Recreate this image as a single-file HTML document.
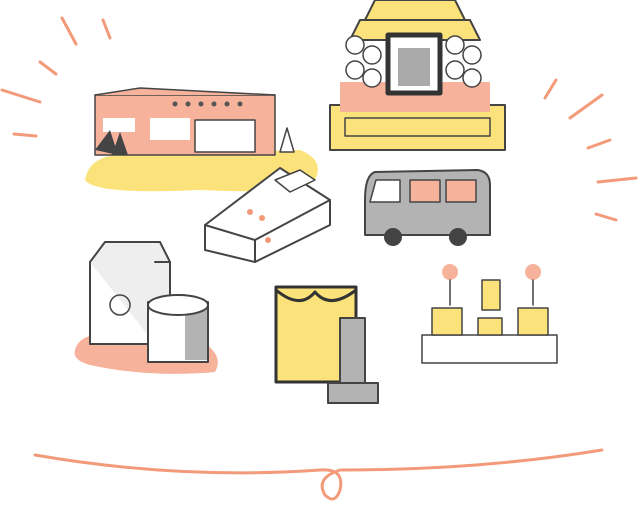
<!DOCTYPE html>
<html><head><meta charset="utf-8"><style>html,body{margin:0;padding:0;background:#fff}svg{display:block}</style></head>
<body>
<svg width="640" height="515" viewBox="0 0 640 515" xmlns="http://www.w3.org/2000/svg" stroke-linecap="round" stroke-linejoin="round">
<rect width="640" height="515" fill="#fff"/>
<!-- rays -->
<g stroke="#f29a7a" stroke-width="3" fill="none">
<line x1="62" y1="18" x2="76" y2="44"/><line x1="103" y1="20" x2="110" y2="38"/>
<line x1="40" y1="62" x2="56" y2="74"/><line x1="2" y1="90" x2="40" y2="102"/>
<line x1="14" y1="134" x2="36" y2="136"/>
<line x1="545" y1="98" x2="556" y2="80"/><line x1="570" y1="118" x2="602" y2="95"/>
<line x1="588" y1="148" x2="610" y2="140"/><line x1="598" y1="182" x2="636" y2="178"/>
<line x1="596" y1="214" x2="616" y2="220"/>
</g>
<!-- building -->
<path d="M85 180 Q90 150 140 155 L300 150 Q325 160 315 180 Q300 195 200 190 Q95 195 85 180Z" fill="#fbe27a"/>
<rect x="95" y="95" width="180" height="60" fill="#f6b29a" stroke="#444" stroke-width="1.5"/>
<path d="M95 95 L140 88 L275 95" fill="#f6b29a" stroke="#444" stroke-width="1.5"/>
<g fill="#fff"><rect x="103" y="118" width="32" height="14"/><rect x="150" y="118" width="40" height="22"/></g>
<g fill="#555"><circle cx="175" cy="104" r="2.5"/><circle cx="188" cy="104" r="2.5"/><circle cx="201" cy="104" r="2.5"/><circle cx="214" cy="104" r="2.5"/><circle cx="227" cy="104" r="2.5"/><circle cx="240" cy="104" r="2.5"/></g>
<rect x="195" y="120" width="60" height="32" fill="#fff" stroke="#444" stroke-width="1.5"/>
<path d="M95 150 L110 130 L118 155Z M112 155 L120 132 L128 155Z" fill="#444"/>
<path d="M280 152 L287 128 L294 152Z" fill="#fff" stroke="#444" stroke-width="1.5"/>
<!-- altar -->
<rect x="330" y="105" width="175" height="45" fill="#fbe27a" stroke="#444" stroke-width="2"/>
<rect x="340" y="82" width="150" height="30" fill="#f6b29a"/>
<path d="M360 20 L470 20 L480 40 L350 40Z" fill="#fbe27a" stroke="#444" stroke-width="2"/>
<path d="M375 0 L455 0 L465 20 L365 20Z" fill="#fbe27a" stroke="#444" stroke-width="2"/>
<rect x="388" y="35" width="52" height="58" fill="#fff" stroke="#333" stroke-width="5"/>
<rect x="398" y="48" width="32" height="38" fill="#aaa"/>
<g fill="#fff" stroke="#444" stroke-width="1.5">
<circle cx="355" cy="45" r="9"/><circle cx="372" cy="55" r="9"/><circle cx="355" cy="70" r="9"/><circle cx="372" cy="78" r="9"/>
<circle cx="455" cy="45" r="9"/><circle cx="472" cy="55" r="9"/><circle cx="455" cy="70" r="9"/><circle cx="472" cy="78" r="9"/>
</g>
<rect x="345" y="118" width="145" height="18" fill="none" stroke="#444" stroke-width="1.5"/>
<!-- coffin -->
<path d="M205 225 L280 168 L330 200 L330 225 L255 262 L205 250Z" fill="#fff" stroke="#444" stroke-width="2"/>
<path d="M205 225 L255 240 L330 200 M255 240 L255 262" fill="none" stroke="#444" stroke-width="2"/>
<path d="M275 180 L300 170 L315 180 L290 192Z" fill="#fff" stroke="#444" stroke-width="1.5"/>
<g fill="#f29a7a"><circle cx="250" cy="212" r="3"/><circle cx="262" cy="218" r="3"/><circle cx="268" cy="240" r="3"/></g>
<!-- bus -->
<path d="M375 172 L478 170 Q490 172 490 185 L490 235 L365 235 L365 200 Q365 175 375 172Z" fill="#b3b3b3" stroke="#444" stroke-width="2"/>
<rect x="410" y="180" width="30" height="22" fill="#f6b29a" stroke="#444" stroke-width="1.5"/>
<rect x="446" y="180" width="30" height="22" fill="#f6b29a" stroke="#444" stroke-width="1.5"/>
<path d="M376 180 L400 180 L400 202 L370 202Z" fill="#fff" stroke="#444" stroke-width="1.5"/>
<circle cx="393" cy="237" r="9" fill="#444"/><circle cx="458" cy="237" r="9" fill="#444"/>
<!-- box & urn -->
<path d="M75 350 Q80 330 120 335 L200 340 Q225 355 215 372 Q150 378 90 365 Q72 360 75 350Z" fill="#f6b29a"/>
<rect x="90" y="262" width="65" height="82" fill="#fff" stroke="#444" stroke-width="2"/>
<path d="M90 262 L105 242 L160 242 L170 262 L170 330 L155 344 M155 262 L170 262" fill="#eee" stroke="#444" stroke-width="2"/>
<circle cx="120" cy="305" r="10" fill="none" stroke="#444" stroke-width="1.5"/>
<rect x="148" y="302" width="60" height="60" fill="#fff" stroke="#444" stroke-width="2"/>
<rect x="185" y="305" width="22" height="55" fill="#b3b3b3"/>
<ellipse cx="178" cy="305" rx="30" ry="10" fill="#fff" stroke="#444" stroke-width="2"/>
<!-- portrait & grave -->
<rect x="276" y="287" width="80" height="95" fill="#fbe27a" stroke="#333" stroke-width="3"/>
<path d="M276 290 Q300 310 315 292 Q330 310 356 290" fill="none" stroke="#333" stroke-width="3"/>
<rect x="340" y="318" width="25" height="65" fill="#b3b3b3" stroke="#444" stroke-width="2"/>
<rect x="328" y="383" width="50" height="20" fill="#b3b3b3" stroke="#444" stroke-width="2"/>
<!-- butsudan -->
<rect x="422" y="335" width="135" height="28" fill="#fff" stroke="#444" stroke-width="1.5"/>
<rect x="432" y="308" width="30" height="27" fill="#fbe27a" stroke="#444" stroke-width="1.5"/>
<rect x="518" y="308" width="30" height="27" fill="#fbe27a" stroke="#444" stroke-width="1.5"/>
<rect x="482" y="280" width="18" height="30" fill="#fbe27a" stroke="#444" stroke-width="1.5"/>
<rect x="478" y="318" width="24" height="17" fill="#fbe27a" stroke="#444" stroke-width="1.5"/>
<circle cx="450" cy="272" r="8" fill="#f6b29a"/><circle cx="533" cy="272" r="8" fill="#f6b29a"/>
<line x1="450" y1="280" x2="450" y2="305" stroke="#444" stroke-width="1.5"/><line x1="533" y1="280" x2="533" y2="305" stroke="#444" stroke-width="1.5"/>
<!-- bottom line -->
<path d="M35 455 Q180 480 320 470 Q345 468 340 490 Q335 505 325 495 Q315 478 340 470 Q480 470 602 450" fill="none" stroke="#f29a7a" stroke-width="3"/>
</svg>
</body></html>
